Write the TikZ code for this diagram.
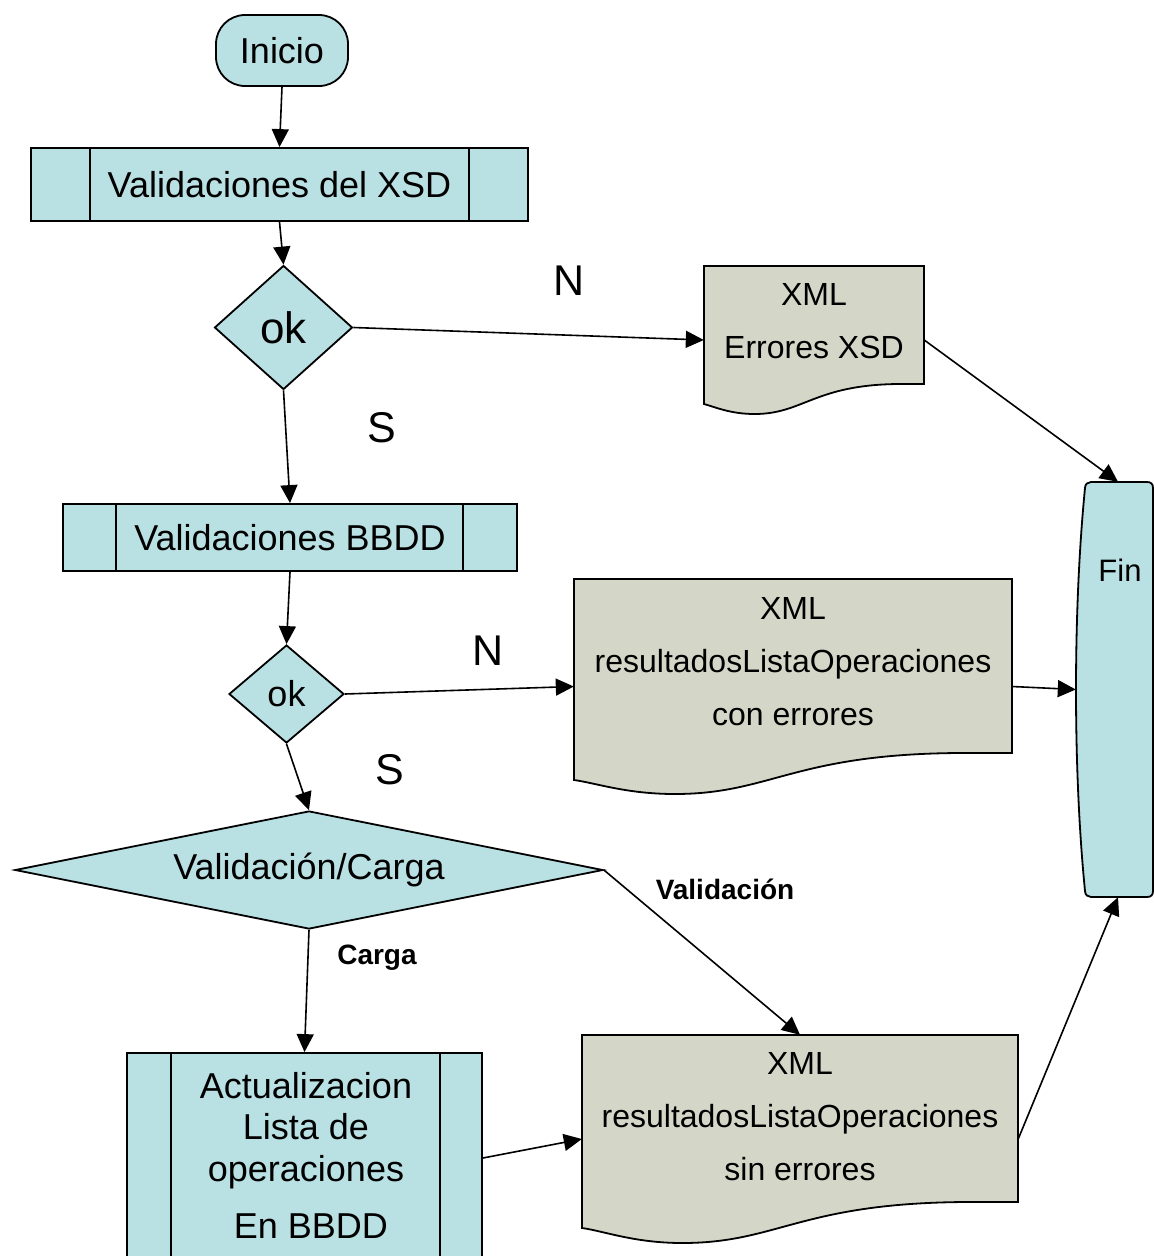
\documentclass[tikz,border=0pt]{standalone}
\usepackage{fontspec}
\setmainfont{Liberation Sans}
\usetikzlibrary{shapes.geometric,arrows.meta,calc}
\definecolor{procblue}{RGB}{185,224,227}
\definecolor{docgray}{RGB}{212,215,200}
\tikzset{
  shapeline/.style={draw=black,line width=1.8pt},
  bluebox/.style={shapeline,fill=procblue,rectangle,inner sep=0pt},
  decision/.style={shapeline,fill=procblue,diamond,inner sep=0pt,aspect=1},
  holder/.style={draw=none,rectangle,inner sep=0pt},
  conn/.style={line width=1.6pt,-{Triangle[length=18pt,width=17pt]}},
  tmain/.style={font=\fontsize{36}{43}\selectfont},
  tdoc/.style={font=\fontsize{32}{53}\selectfont,align=center,inner sep=0pt},
  tyn/.style={font=\fontsize{43}{50}\selectfont,inner sep=0pt},
  tbold/.style={font=\fontsize{28}{34}\selectfont\bfseries,inner sep=0pt}
}
\newcommand\docshape[6]{%
  \draw[shapeline,fill=docgray] (#1,#2) -- (#3,#2) -- (#3,#4)
  -- ({#3-0.12*(#3-#1)},#4)
  .. controls ({#1+0.5*(#3-#1)},{#4+1}) and ({#1+0.45*(#3-#1)},#6) .. ({#1+0.23*(#3-#1)},#6)
  .. controls ({#1+0.12*(#3-#1)},#6) and ({#1+0.05*(#3-#1)},{#5+3}) .. (#1,#5) -- cycle;}
\begin{document}
\begin{tikzpicture}[x=1pt,y=-1pt]
\useasboundingbox (0,0) rectangle (1154,1256);

% Inicio
\node[bluebox,rounded corners=29pt,minimum width=132,minimum height=71,tmain] (inicio) at (282,50.5) {Inicio};

% Validaciones del XSD
\node[bluebox,minimum width=497,minimum height=73,tmain] (xsd) at (279.5,184.5) {Validaciones del XSD};
\draw[shapeline] ($(xsd.north west)+(60,0)$) -- ($(xsd.south west)+(60,0)$);
\draw[shapeline] ($(xsd.north east)+(-60,0)$) -- ($(xsd.south east)+(-60,0)$);

% ok 1
\node[decision,minimum width=138,minimum height=124,font=\fontsize{44}{50}\selectfont] (ok1) at (283.5,327.5) {ok};

% Validaciones BBDD
\node[bluebox,minimum width=454,minimum height=67,tmain] (bbdd) at (290,537.5) {Validaciones BBDD};
\draw[shapeline] ($(bbdd.north west)+(54,0)$) -- ($(bbdd.south west)+(54,0)$);
\draw[shapeline] ($(bbdd.north east)+(-55,0)$) -- ($(bbdd.south east)+(-55,0)$);

% ok 2
\node[decision,minimum width=115,minimum height=98,tmain] (ok2) at (286.5,694) {ok};

% Validacion/Carga
\node[decision,aspect=5,minimum width=588,minimum height=118,tmain] (vc) at (309,870) {Validación/Carga};

% Actualizacion
\node[bluebox,minimum width=355,minimum height=210] (act) at (304.5,1158) {};
\draw[shapeline] ($(act.north west)+(45,0)$) -- ($(act.south west)+(45,0)$);
\draw[shapeline] ($(act.north east)+(-43,0)$) -- ($(act.south east)+(-43,0)$);
\node[font=\fontsize{36}{41.5}\selectfont,align=center,inner sep=0pt] (acttxt) at (306,1155)
  {Actualizacion\\Lista de\\operaciones\\[15.5pt]\hspace*{10pt}En BBDD};

% XML documents
\docshape{704}{266}{924}{384}{404}{414}
\node[holder,minimum width=220,minimum height=148] (xml1) at (814,340) {};
\node[tdoc] (xml1txt) at (814,321.5) {XML\\Errores XSD};

\docshape{574}{579}{1012}{753}{780}{794}
\node[holder,minimum width=438,minimum height=215] (xml2) at (793,686.5) {};
\node[tdoc] (xml2txt) at (793,662) {XML\\resultadosListaOperaciones\\con errores};

\docshape{582}{1035}{1018}{1202}{1228}{1243}
\node[holder,minimum width=436,minimum height=208] (xml3) at (800,1139) {};
\node[tdoc] (xml3txt) at (800,1117) {XML\\resultadosListaOperaciones\\sin errores};

% Fin
\draw[shapeline,fill=procblue] (1091,482) -- (1147,482)
  .. controls (1151,482) and (1153,484) .. (1153,488) -- (1153,891)
  .. controls (1153,895) and (1151,897) .. (1147,897) -- (1091,897)
  .. controls (1088,897) and (1085,895) .. (1085,891)
  .. controls (1073,770) and (1073,610) .. (1085,488)
  .. controls (1085,484) and (1088,482) .. (1091,482) -- cycle;
\node[holder,minimum width=84,minimum height=415] (fin) at (1118,689.5) {};
\node[font=\fontsize{31}{37}\selectfont,inner sep=0pt] (fintxt) at (1120,570) {Fin};

% labels
\node[tyn] (n1) at (569,281) {N};
\node[tyn] (s1) at (382,428) {S};
\node[tyn] (n2) at (488,651) {N};
\node[tyn] (s2) at (390,770) {S};
\node[tbold] (lval) at (725,889) {Validación};
\node[tbold] (lcar) at (377,958) {Carga};

% connectors
\draw[conn] (inicio.south) -- (xsd.north);
\draw[conn] (xsd.south) -- (ok1.north);
\draw[conn] (ok1.south) -- (bbdd.north);
\draw[conn] (bbdd.south) -- (ok2.north);
\draw[conn] (ok2.south) -- (vc.north);
\draw[conn] (vc.south) -- (act.north);
\draw[conn] (vc.east) -- (xml3.north);
\draw[conn] (act.east) -- (xml3.west);
\draw[conn] (xml3.east) -- (fin.south);
\draw[conn] (ok1.east) -- (xml1.west);
\draw[conn] (ok2.east) -- (xml2.west);
\draw[conn] (xml1.east) -- (fin.north);
\draw[conn] (xml2.east) -- (fin.west);
\end{tikzpicture}
\end{document}
